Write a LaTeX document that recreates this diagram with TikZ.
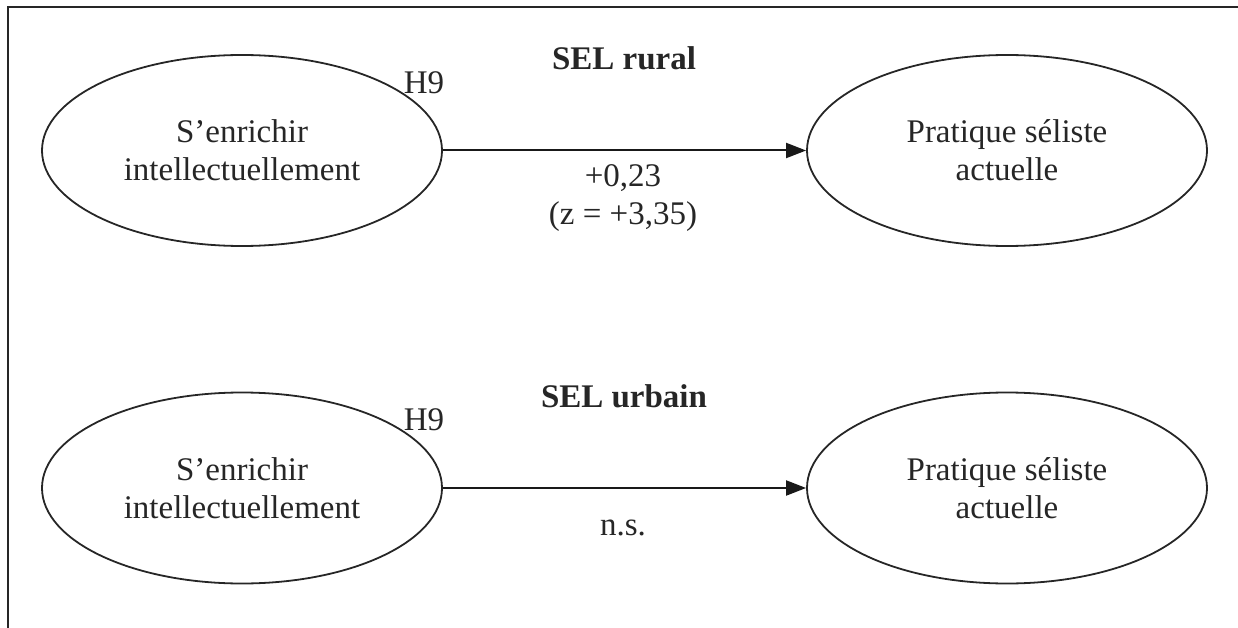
\documentclass[tikz,border=0pt]{standalone}
\usepackage{fontspec}
\setmainfont{Liberation Serif}
\usetikzlibrary{shapes.geometric,arrows.meta}
\begin{document}
\begin{tikzpicture}[x=1pt,y=-1pt,
  every node/.style={font=\fontsize{33}{38}\selectfont, text=black!85},
  latent/.style={ellipse, draw=black!85, line width=1.8pt, minimum width=400pt, minimum height=191pt, inner sep=0pt, align=center},
  path/.style={draw=black!90, line width=2pt, -{Triangle[length=20pt,width=15pt]}},
  lab/.style={align=center, inner sep=0pt},
  title/.style={font=\fontsize{33}{38}\selectfont\bfseries}
]
\useasboundingbox (0,0) rectangle (1238,628);
\draw[line width=2.5pt, black!85] (1238,7) -- (8,7) -- (8,628);
% rural
\node[title] (t1) at (624,58) {SEL rural};
\node[latent] (a1) at (242,150.5) {S’enrichir\\intellectuellement};
\node[latent] (b1) at (1007,150.5) {Pratique séliste\\actuelle};
\draw[path] (a1.east) -- (b1.west);
\node[lab] (h1) at (424,83) {H9};
\node[lab] (c1) at (623,198) {+0,23\\(z = +3,35)};
% urbain
\node[title] (t2) at (624,396) {SEL urbain};
\node[latent] (a2) at (242,488) {S’enrichir\\intellectuellement};
\node[latent] (b2) at (1007,488) {Pratique séliste\\actuelle};
\draw[path] (a2.east) -- (b2.west);
\node[lab] (h2) at (424,420) {H9};
\node[lab] (c2) at (623,528) {n.s.};
\end{tikzpicture}
\end{document}
